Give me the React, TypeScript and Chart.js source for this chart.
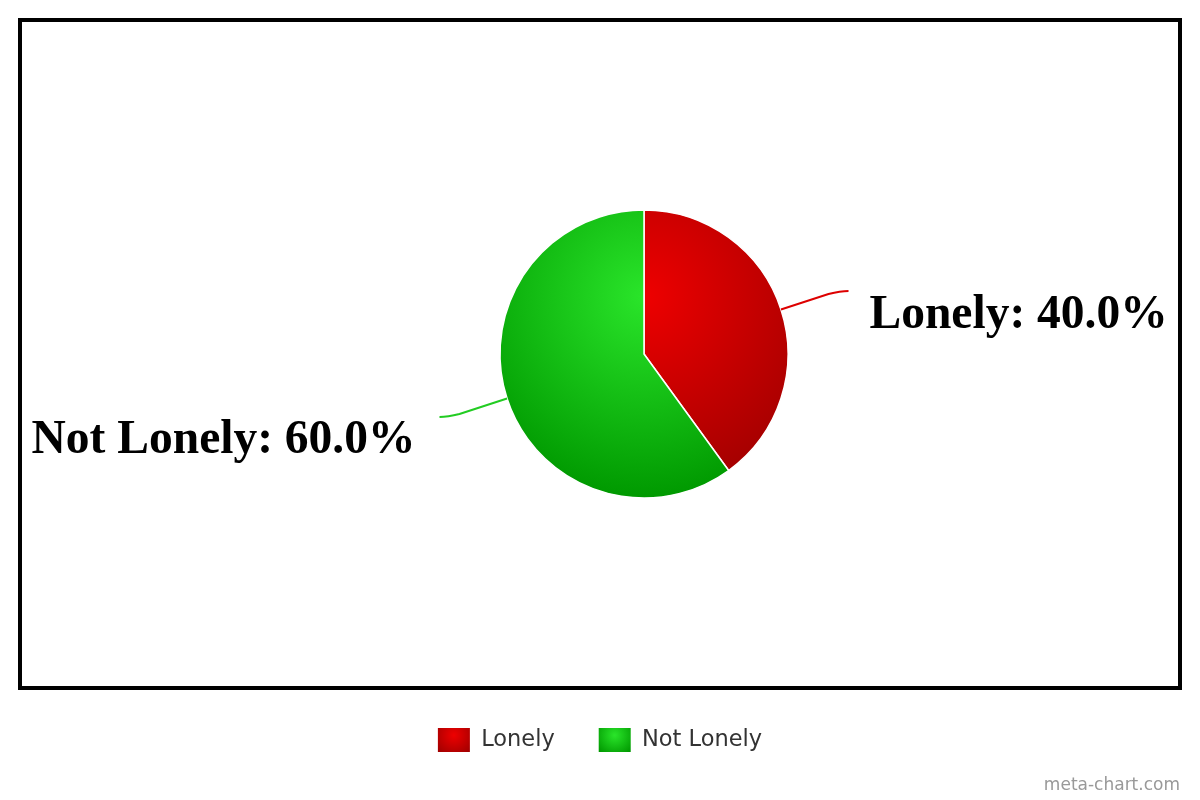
import React, { useEffect, useRef } from "react";
import { Chart, registerables, layouts } from "chart.js";

Chart.register(...registerables);

const categories = ["Lonely", "Not Lonely"];
const values = [40, 60];
const baseColors = ["#ee0000", "#2ae52a"];
const darkColors = ["#a20000", "#009900"];
const creditText = "meta-chart.com";

function makeSpacer(width: number) {
  return {
    position: "left",
    weight: 0,
    fullSize: false,
    options: {},
    width: 0,
    height: 0,
    left: 0,
    top: 0,
    right: 0,
    bottom: 0,
    update(maxWidth: number, maxHeight: number) {
      this.width = width;
      this.height = maxHeight;
    },
    isHorizontal() {
      return false;
    },
    draw() {},
  };
}

export default function App() {
  const ref = useRef<HTMLCanvasElement | null>(null);

  useEffect(() => {
    document.body.style.margin = "0";
    const canvas = ref.current;
    if (!canvas) return;

    const spacer: any = makeSpacer(88);

    const framePlugin = {
      id: "frameAndLabels",
      beforeInit(chart: any) {
        layouts.addBox(chart, spacer);
      },
      beforeDraw(chart: any) {
        const ctx = chart.ctx;
        ctx.save();
        ctx.fillStyle = "#ffffff";
        ctx.fillRect(0, 0, chart.width, chart.height);
        ctx.strokeStyle = "#000000";
        ctx.lineWidth = 4;
        ctx.strokeRect(20, 20, 1160, 668);
        ctx.restore();
        const legend = chart.legend;
        if (legend && legend.legendHitBoxes && legend.legendItems) {
          legend.legendItems.forEach((item: any, i: number) => {
            const hb = legend.legendHitBoxes[i];
            if (!hb) return;
            const cx = hb.left + 16;
            const cy = hb.top + 0.3 * 24;
            const g = ctx.createRadialGradient(cx, cy, 0, cx, cy, 22);
            g.addColorStop(0, baseColors[i]);
            g.addColorStop(1, darkColors[i]);
            item.fillStyle = g;
            item.strokeStyle = "rgba(0,0,0,0)";
            item.lineWidth = 0;
          });
        }
      },
      afterDatasetsDraw(chart: any) {
        const ctx = chart.ctx;
        const meta = chart.getDatasetMeta(0);
        const total = values.reduce((a, b) => a + b, 0);
        ctx.save();
        meta.data.forEach((arc: any, i: number) => {
          const { x, y, startAngle, endAngle, outerRadius } = arc.getProps(
            ["x", "y", "startAngle", "endAngle", "outerRadius"],
            true
          );
          const mid = (startAngle + endAngle) / 2;
          const c = Math.cos(mid);
          const s = Math.sin(mid);
          const sx = c >= 0 ? 1 : -1;
          const sy = s >= 0 ? 1 : -1;
          const px = x + outerRadius * c;
          const py = y + outerRadius * s;
          const qx = x + (outerRadius + 50) * c;
          const qy = y + (outerRadius + 50) * s;
          const ex = qx + 20 * sx;
          const ey = qy + 3 * sy;
          ctx.beginPath();
          ctx.moveTo(px, py);
          ctx.lineTo(qx, qy);
          ctx.quadraticCurveTo(qx + 12 * sx, ey, ex, ey);
          ctx.strokeStyle = i === 0 ? "#dd0000" : "#22cc22";
          ctx.lineWidth = 2;
          ctx.stroke();

          const pct = ((values[i] / total) * 100).toFixed(1);
          ctx.font = 'bold 47.5px "Liberation Serif", "Times New Roman", serif';
          ctx.fillStyle = "#000000";
          ctx.textBaseline = "alphabetic";
          if (sx > 0) {
            ctx.textAlign = "left";
            ctx.fillText(`${categories[i]}: ${pct}%`, ex + 21, ey + 37);
          } else {
            ctx.textAlign = "right";
            ctx.fillText(`${categories[i]}: ${pct}%`, ex - 24, ey + 36);
          }
        });
        ctx.font = '17px "DejaVu Sans", sans-serif';
        ctx.fillStyle = "#999999";
        ctx.textAlign = "right";
        ctx.textBaseline = "alphabetic";
        ctx.fillText(creditText, 1180, 790);
        ctx.restore();
      },
    };

    const sliceGradient = (context: any) => {
      const i = context.dataIndex ?? 0;
      const chart = context.chart;
      const area = chart.chartArea;
      if (!area) return baseColors[i];
      const cx = (area.left + area.right) / 2;
      const cy = (area.top + area.bottom) / 2 - 144 + 0.3 * 288;
      const g = chart.ctx.createRadialGradient(cx, cy, 0, cx, cy, 0.7 * 288);
      g.addColorStop(0, baseColors[i]);
      g.addColorStop(1, darkColors[i]);
      return g;
    };

    const chart = new Chart(canvas, {
      type: "pie",
      data: {
        labels: categories,
        datasets: [
          {
            data: values,
            backgroundColor: sliceGradient as any,
            borderColor: "#ffffff",
            borderWidth: 1.5,
            radius: 144,
          } as any,
        ],
      },
      options: {
        responsive: false,
        animation: false,
        devicePixelRatio: 1,
        events: [],
        layout: { padding: { top: 24, bottom: 38, left: 0, right: 0 } },
        plugins: {
          tooltip: { enabled: false },
          title: { display: false },
          legend: {
            display: true,
            position: "bottom",
            align: "center",
            labels: {
              boxWidth: 32,
              boxHeight: 24,
              padding: 44,
              color: "#333333",
              font: { family: '"DejaVu Sans", sans-serif', size: 22.5 },
            },
          },
        },
      },
      plugins: [framePlugin as any],
    });

    return () => {
      chart.destroy();
    };
  }, []);

  return (
    <canvas
      ref={ref}
      width={1200}
      height={800}
      style={{ display: "block", width: "1200px", height: "800px" }}
    />
  );
}
